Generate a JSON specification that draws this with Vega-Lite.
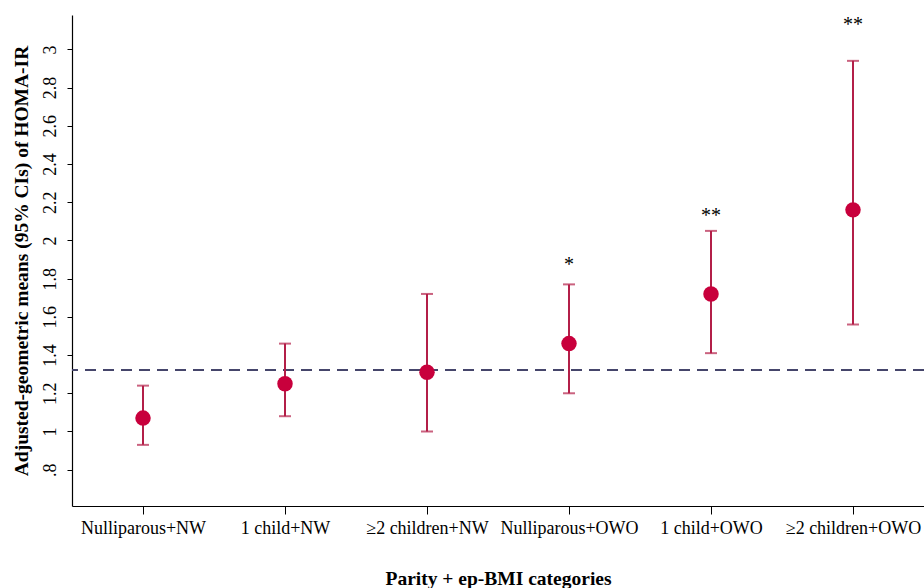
{
  "$schema": "https://vega.github.io/schema/vega-lite/v6.json",
  "width": 852,
  "height": 491,
  "autosize": {"type": "none"},
  "padding": {"left": 72, "top": 15, "right": 0, "bottom": 82},
  "background": "white",
  "config": {
    "view": {"stroke": null},
    "font": "Liberation Serif",
    "axis": {"grid": false, "domainColor": "#000000", "tickColor": "#000000", "labelColor": "#000000", "titleColor": "#000000", "labelFont": "Liberation Serif", "titleFont": "Liberation Serif"}
  },
  "data": {
    "values": [
      {"cat": "Nulliparous+NW", "mean": 1.07, "lo": 0.93, "hi": 1.24, "star": "", "sy": 1.3},
      {"cat": "1 child+NW", "mean": 1.25, "lo": 1.08, "hi": 1.46, "star": "", "sy": 1.5},
      {"cat": "≥2 children+NW", "mean": 1.31, "lo": 1.0, "hi": 1.72, "star": "", "sy": 1.8},
      {"cat": "Nulliparous+OWO", "mean": 1.46, "lo": 1.2, "hi": 1.77, "star": "*", "sy": 1.87},
      {"cat": "1 child+OWO", "mean": 1.72, "lo": 1.41, "hi": 2.05, "star": "**", "sy": 2.13},
      {"cat": "≥2 children+OWO", "mean": 2.16, "lo": 1.56, "hi": 2.94, "star": "**", "sy": 3.13}
    ]
  },
  "encoding": {
    "x": {
      "field": "cat", "type": "nominal", "sort": null,
      "scale": {"type": "point", "padding": 0.5},
      "axis": {"title": "Parity + ep-BMI categories", "labelAngle": 0, "labelFontSize": 18, "titleFontSize": 19.5, "titleFontWeight": "bold", "tickSize": 8, "labelPadding": 5, "titlePadding": 32, "domainWidth": 1.2}
    }
  },
  "layer": [
    {
      "mark": {"type": "rule", "color": "#45456a", "strokeDash": [11, 7], "strokeWidth": 1.5},
      "encoding": {"x": null, "y": {"datum": 1.32, "type": "quantitative"}}
    },
    {
      "mark": {"type": "rule", "color": "#b31f48", "strokeWidth": 2},
      "encoding": {
        "y": {
          "field": "lo", "type": "quantitative",
          "scale": {"domain": [0.61, 3.18], "nice": false, "zero": false},
          "axis": {"title": "Adjusted-geometric means (95% CIs) of HOMA-IR", "values": [0.8, 1, 1.2, 1.4, 1.6, 1.8, 2, 2.2, 2.4, 2.6, 2.8, 3], "labelExpr": "datum.value == 0.8 ? '.8' : format(datum.value, '~g')", "labelAngle": -90, "labelFontSize": 18, "titleFontSize": 19.5, "titleFontWeight": "bold", "tickSize": 5, "labelPadding": 8, "titlePadding": 10, "domainWidth": 1.2}
        },
        "y2": {"field": "hi"}
      }
    },
    {
      "mark": {"type": "tick", "color": "#b31f48", "thickness": 2, "size": 12},
      "encoding": {"y": {"field": "lo", "type": "quantitative"}}
    },
    {
      "mark": {"type": "tick", "color": "#b31f48", "thickness": 2, "size": 12},
      "encoding": {"y": {"field": "hi", "type": "quantitative"}}
    },
    {
      "mark": {"type": "circle", "color": "#c8003c", "opacity": 1, "size": 240},
      "encoding": {"y": {"field": "mean", "type": "quantitative"}}
    },
    {
      "mark": {"type": "text", "fontSize": 20, "font": "Liberation Serif", "color": "#000000", "baseline": "middle"},
      "encoding": {"y": {"field": "sy", "type": "quantitative"}, "text": {"field": "star"}}
    }
  ]
}
